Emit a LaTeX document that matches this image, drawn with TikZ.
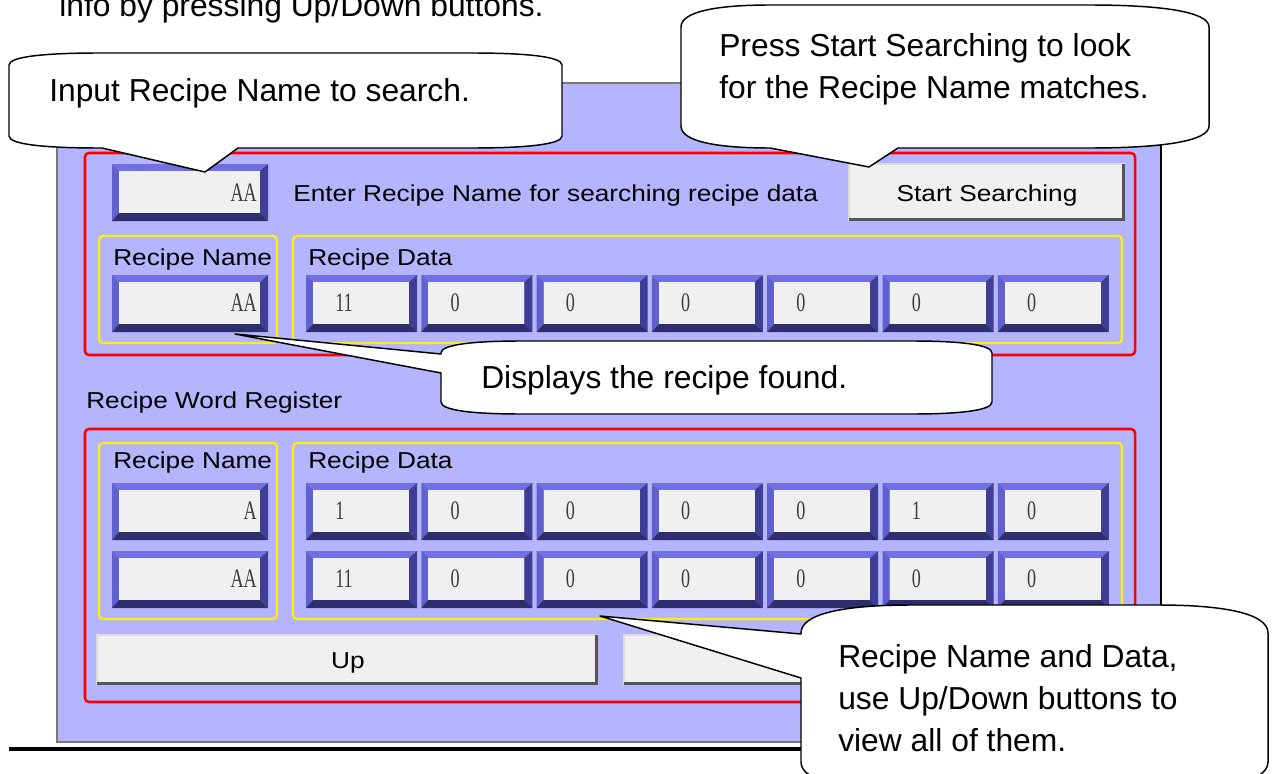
\documentclass[tikz,border=0pt]{standalone}
\usepackage{fontspec}
\setmainfont{Liberation Sans}
\newfontfamily\hmisans[FakeStretch=1.14]{Liberation Sans}
\newfontfamily\hmiserif[FakeStretch=0.68]{Liberation Serif}
\definecolor{lav}{RGB}{180,180,255}
\definecolor{fieldbg}{RGB}{240,240,240}
\definecolor{btnbg}{RGB}{240,240,240}
\definecolor{btndark}{RGB}{85,85,85}
\definecolor{btnlight}{RGB}{220,220,220}
\definecolor{bevtop}{RGB}{112,112,226}
\definecolor{bevleft}{RGB}{96,96,206}
\definecolor{bevright}{RGB}{62,62,148}
\definecolor{bevbot}{RGB}{46,46,110}
\definecolor{panelgray}{RGB}{120,120,120}
\definecolor{fieldtext}{RGB}{60,60,60}
\newcommand\bevelfield[4]{%
  \fill[bevtop] (#1,#2) -- (#3,#2) -- ({#3-8},{#2+7}) -- ({#1+7},{#2+7}) -- cycle;
  \fill[bevleft] (#1,#2) -- ({#1+7},{#2+7}) -- ({#1+7},{#4-8}) -- (#1,#4) -- cycle;
  \fill[bevright] (#3,#2) -- (#3,#4) -- ({#3-8},{#4-8}) -- ({#3-8},{#2+7}) -- cycle;
  \fill[bevbot] (#1,#4) -- (#3,#4) -- ({#3-8},{#4-8}) -- ({#1+7},{#4-8}) -- cycle;
  \fill[fieldbg] ({#1+7},{#2+7}) rectangle ({#3-8},{#4-8});
}
\newcommand\hmibutton[4]{%
  \fill[btnbg] (#1,#2) rectangle (#3,#4);
  \draw[btnlight, line width=1pt] (#1,#4) -- (#1,#2) -- (#3,#2);
  \draw[btndark, line width=2pt] ({#3-1.3},#2) -- ({#3-1.3},{#4-1.3}) -- (#1,{#4-1.3});
}
\begin{document}
\begin{tikzpicture}[x=0.75pt,y=-0.75pt,
  callouttxt/.style={inner sep=0pt, anchor=base west, font=\fontsize{23.85pt}{31.5pt}\selectfont},
  hmilabel/.style={inner sep=0pt, anchor=base west, font=\hmisans\fontsize{17.25pt}{20pt}\selectfont},
  fieldtxt/.style={inner sep=0pt, text=fieldtext, font=\hmiserif\fontsize{20pt}{24pt}\selectfont},
  redframe/.style={draw=red, line width=1.9pt, rounded corners=3pt},
  yelframe/.style={draw=yellow, line width=1.6pt, rounded corners=3pt},
  callout/.style={fill=white, draw=black, line width=1.1pt, line join=round}]
\useasboundingbox (0,0) rectangle (1277,774);
\clip (0,0) rectangle (1277,774);
\fill[white] (0,0) rectangle (1277,774);

% text cut at the top
\node[callouttxt] (toptext) at (59,16.7) {info by pressing Up/Down buttons.};

% HMI window
\fill[lav] (57,83) rectangle (1161,743);
\draw[panelgray, line width=1.6pt] (57,743) -- (57,83) -- (1161,83);
\draw[black, line width=1.6pt] (1161,83) -- (1161,743);
\draw[panelgray, line width=1.6pt] (57,742) -- (1161,742);
\draw[black, line width=3pt] (9,748.5) -- (1161,748.5);

% group frames
\draw[redframe] (85,153) rectangle (1135,355);
\draw[redframe] (85,429) rectangle (1135,702);
\draw[yelframe] (99,236) rectangle (277,343);
\draw[yelframe] (293,236) rectangle (1122,343);
\draw[yelframe] (99,443) rectangle (277,619);
\draw[yelframe] (293,443) rectangle (1122,619);

% search row
\bevelfield{112}{164}{268}{221}
\node[fieldtxt, anchor=base east] (inAA) at (257,201) {AA};
\node[hmilabel] (enterlbl) at (293,201) {Enter Recipe Name for searching recipe data};
\hmibutton{849}{164}{1125}{221}
\node[hmilabel, anchor=base] (startlbl) at (987,201) {Start Searching};

% found recipe
\node[hmilabel] (rn1lbl) at (113,265) {Recipe Name};
\node[hmilabel] (rd1lbl) at (308,265) {Recipe Data};
\bevelfield{112}{275}{268}{332}
\node[fieldtxt, anchor=base east] (foundAA) at (257,311) {AA};
\foreach \v [count=\k from 0] in {11,0,0,0,0,0,0} {
  \pgfmathsetmacro\xa{306+115.3*\k}
  \pgfmathsetmacro\xb{\xa+111}
  \bevelfield{\xa}{275}{\xb}{332}
  \node[fieldtxt, anchor=base west] (fd\k) at ({\xa+29},311) {\v};
}

% recipe word register
\node[hmilabel] (rwrlbl) at (86,408) {Recipe Word Register};
\node[hmilabel] (rn2lbl) at (113,468) {Recipe Name};
\node[hmilabel] (rd2lbl) at (308,468) {Recipe Data};
\bevelfield{112}{483}{268}{540}
\node[fieldtxt, anchor=base east] (regA) at (257,519) {A};
\bevelfield{112}{551}{268}{608}
\node[fieldtxt, anchor=base east] (regAA) at (257,587) {AA};
\foreach \v [count=\k from 0] in {1,0,0,0,0,1,0} {
  \pgfmathsetmacro\xa{306+115.3*\k}
  \pgfmathsetmacro\xb{\xa+111}
  \bevelfield{\xa}{483}{\xb}{540}
  \node[fieldtxt, anchor=base west] (ra\k) at ({\xa+29},519) {\v};
}
\foreach \v [count=\k from 0] in {11,0,0,0,0,0,0} {
  \pgfmathsetmacro\xa{306+115.3*\k}
  \pgfmathsetmacro\xb{\xa+111}
  \bevelfield{\xa}{551}{\xb}{608}
  \node[fieldtxt, anchor=base west] (rb\k) at ({\xa+29},587) {\v};
}
\hmibutton{97}{635}{598}{685}
\node[hmilabel, anchor=base] (uplbl) at (348,668) {Up};
\hmibutton{624}{635}{1125}{685}

% callout A
\coordinate (tipA) at (205,172);
\path[callout] (9,65) .. controls (9,56.6) and (45,53) .. (99,53) -- (472,53)
  .. controls (526,53) and (562,56.6) .. (562,65) -- (562,136)
  .. controls (562,144.4) and (526,148) .. (472,148) -- (238,148) -- (tipA) -- (102,148) -- (99,148)
  .. controls (45,148) and (9,144.4) .. (9,136) -- cycle;
\node[callouttxt] (txtA) at (49,101.5) {Input Recipe Name to search.};

% callout B
\coordinate (tipB) at (869,167);
\path[callout] (681,27) .. controls (681,11.6) and (716.6,5) .. (770,5) -- (1089,5)
  .. controls (1161,5) and (1209,11.6) .. (1209,27) -- (1209,126)
  .. controls (1209,141.4) and (1161,148) .. (1089,148) -- (898,148) -- (tipB) -- (770,148)
  .. controls (716.6,148) and (681,141.4) .. (681,126) -- cycle;
\node[callouttxt] (txtB) at (719,56.7) {\parbox[t]{480pt}{\raggedright Press Start Searching to look\\for the Recipe Name matches.}};

% callout C
\coordinate (tipC) at (235,334);
\path[callout] (441,353) .. controls (441,344.6) and (473,341) .. (521,341) -- (912,341)
  .. controls (960,341) and (992,344.6) .. (992,353) -- (992,402)
  .. controls (992,410.4) and (960,414) .. (912,414) -- (521,414)
  .. controls (473,414) and (441,410.4) .. (441,402) -- (441,373) -- (tipC) -- (441,354) -- cycle;
\node[callouttxt] (txtC) at (481,388) {Displays the recipe found.};

% callout D
\coordinate (tipD) at (600,616);
\path[callout] (801,633) .. controls (801,613.4) and (845,605) .. (911,605) -- (1158,605)
  .. controls (1224,605) and (1268,613.4) .. (1268,633) -- (1268,762)
  .. controls (1268,781.6) and (1224,790) .. (1158,790) -- (911,790)
  .. controls (845,790) and (801,781.6) .. (801,762) -- (801,678) -- (tipD) -- (801,634) -- cycle;
\node[callouttxt] (txtD) at (838,667) {\parbox[t]{420pt}{\raggedright Recipe Name and Data,\\use Up/Down buttons to\\view all of them.}};
\end{tikzpicture}
\end{document}
